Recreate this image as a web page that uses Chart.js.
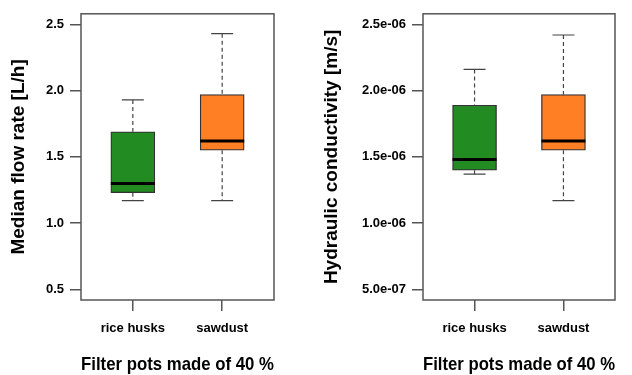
<!DOCTYPE html>
<html lang="en">
  <head>
    <meta charset="UTF-8" />
    <title>Filter pots boxplots</title>
    <script src="https://cdn.jsdelivr.net/npm/chart.js@4/dist/chart.umd.min.js"></script>
    <style>
      body {
        margin: 0;
        padding: 0;
        background-color: #fff;
        font-family: "Liberation Sans", Arial, sans-serif;
      }

      .wrap {
        display: flex;
        width: 632px;
        height: 375px;
      }

      .panel {
        position: relative;
        width: 316px;
        height: 375px;
      }
    </style>
  </head>
  <body>
    <div class="wrap">
      <div class="panel"><canvas id="flowChart"></canvas></div>
      <div class="panel"><canvas id="condChart"></canvas></div>
    </div>

    <script>
      // categories and box stats
      const categories = ["rice husks", "sawdust"];
      const boxColors = ["#228b22", "#ff7f24"];

      // median flow rate [L/h]
      const flowLow = [1.17, 1.17];
      const flowQ1 = [1.23, 1.55];
      const flowMedian = [1.3, 1.62];
      const flowQ3 = [1.69, 1.97];
      const flowHigh = [1.93, 2.43];
      const flowTicks = [0.5, 1.0, 1.5, 2.0, 2.5];

      // hydraulic conductivity [m/s]
      const condLow = [1.37e-6, 1.17e-6];
      const condQ1 = [1.4e-6, 1.55e-6];
      const condMedian = [1.48e-6, 1.62e-6];
      const condQ3 = [1.89e-6, 1.97e-6];
      const condHigh = [2.16e-6, 2.42e-6];
      const condTicks = [5e-7, 1e-6, 1.5e-6, 2e-6, 2.5e-6];

      const FONT = "'Liberation Sans', Arial, sans-serif";

      // draws frame, whiskers and medians using the chart scales
      const boxplotExtras = {
        id: "boxplotExtras",
        afterDatasetsDraw(chart, args, opts) {
          const { ctx, chartArea, scales } = chart;
          const x = scales.x;
          const y = scales.y;
          const meta = chart.getDatasetMeta(0);
          ctx.save();
          opts.median.forEach((m, i) => {
            const bar = meta.data[i];
            const cx = x.getPixelForValue(i + 1);
            const half = bar.width / 2;
            const yLow = y.getPixelForValue(opts.low[i]);
            const yHigh = y.getPixelForValue(opts.high[i]);
            const yQ1 = y.getPixelForValue(opts.q1[i]);
            const yQ3 = y.getPixelForValue(opts.q3[i]);

            // dashed whiskers
            ctx.strokeStyle = "#444";
            ctx.lineWidth = 1.2;
            ctx.setLineDash([4, 3]);
            ctx.beginPath();
            ctx.moveTo(cx, yHigh);
            ctx.lineTo(cx, yQ3);
            ctx.moveTo(cx, yQ1);
            ctx.lineTo(cx, yLow);
            ctx.stroke();

            // caps
            ctx.setLineDash([]);
            ctx.beginPath();
            ctx.moveTo(cx - half / 2, yHigh);
            ctx.lineTo(cx + half / 2, yHigh);
            ctx.moveTo(cx - half / 2, yLow);
            ctx.lineTo(cx + half / 2, yLow);
            ctx.stroke();

            // median
            const ym = y.getPixelForValue(m);
            ctx.strokeStyle = "#000";
            ctx.lineWidth = 3;
            ctx.beginPath();
            ctx.moveTo(cx - half, ym);
            ctx.lineTo(cx + half, ym);
            ctx.stroke();
          });

          // plot frame
          ctx.strokeStyle = "#555";
          ctx.lineWidth = 1.5;
          ctx.strokeRect(
            chartArea.left,
            chartArea.top,
            chartArea.right - chartArea.left,
            chartArea.bottom - chartArea.top
          );
          ctx.restore();
        },
      };

      function makeBoxplot(canvasId, stats, yTicks, yTitle, yFmt, geo) {
        const yMin = yTicks[0];
        const yMax = yTicks[yTicks.length - 1];
        const pad = (yMax - yMin) * 0.04;

        return new Chart(document.getElementById(canvasId), {
          type: "bar",
          data: {
            datasets: [
              {
                data: categories.map((c, i) => ({
                  x: i + 1,
                  y: [stats.q1[i], stats.q3[i]],
                })),
                backgroundColor: boxColors,
                borderColor: "#333",
                borderWidth: 1.3,
                borderSkipped: false,
                barThickness: 44,
              },
            ],
          },
          options: {
            responsive: false,
            animation: false,
            events: [],
            layout: {
              padding: { top: 11, right: geo.right, left: 0, bottom: 0 },
            },
            plugins: {
              legend: { display: false },
              tooltip: { enabled: false },
              boxplotExtras: stats,
            },
            scales: {
              x: {
                type: "linear",
                min: 0.42,
                max: 2.58,
                offset: false,
                afterBuildTicks: (s) => {
                  s.ticks = categories.map((c, i) => ({ value: i + 1 }));
                },
                afterFit: (s) => {
                  s.height = 75;
                },
                ticks: {
                  autoSkip: false,
                  maxRotation: 0,
                  padding: 10,
                  color: "#000",
                  font: { family: FONT, size: 13, weight: "bold" },
                  callback: (v) => categories[Math.round(v) - 1] || "",
                },
                grid: {
                  offset: false,
                  drawOnChartArea: false,
                  drawTicks: true,
                  tickLength: 11,
                  color: "#555",
                  lineWidth: 1.5,
                },
                border: { display: false },
                title: {
                  display: true,
                  text: "Filter pots made of 40 %",
                  color: "#000",
                  font: { family: FONT, size: 19, weight: "bold", lineHeight: 1 },
                  padding: { top: 0, bottom: 1 },
                },
              },
              y: {
                min: yMin - pad,
                max: yMax + pad,
                afterBuildTicks: (s) => {
                  s.ticks = yTicks.map((v) => ({ value: v }));
                },
                afterFit: (s) => {
                  s.width = geo.left;
                },
                ticks: {
                  padding: 6,
                  color: "#000",
                  font: { family: FONT, size: 13, weight: "bold" },
                  callback: yFmt,
                },
                grid: {
                  drawOnChartArea: false,
                  drawTicks: true,
                  tickLength: 11,
                  color: "#555",
                  lineWidth: 1.5,
                },
                border: { display: false },
                title: {
                  display: true,
                  text: yTitle,
                  color: "#000",
                  font: { family: FONT, size: 19, weight: "bold" },
                  padding: { top: geo.titlePad, bottom: 0 },
                },
              },
            },
          },
          plugins: [boxplotExtras],
        });
      }

      document.getElementById("flowChart").width = 316;
      document.getElementById("flowChart").height = 375;
      document.getElementById("condChart").width = 316;
      document.getElementById("condChart").height = 375;

      makeBoxplot(
        "flowChart",
        { low: flowLow, q1: flowQ1, median: flowMedian, q3: flowQ3, high: flowHigh },
        flowTicks,
        "Median flow rate [L/h]",
        (v) => v.toFixed(1),
        { left: 81, right: 42, titlePad: 7 }
      );

      makeBoxplot(
        "condChart",
        { low: condLow, q1: condQ1, median: condMedian, q3: condQ3, high: condHigh },
        condTicks,
        "Hydraulic conductivity [m/s]",
        (v) => v.toExponential(1).replace(/e([+-])(\d)$/, "e$10$2"),
        { left: 107, right: 17, titlePad: 4 }
      );
    </script>
  </body>
</html>
